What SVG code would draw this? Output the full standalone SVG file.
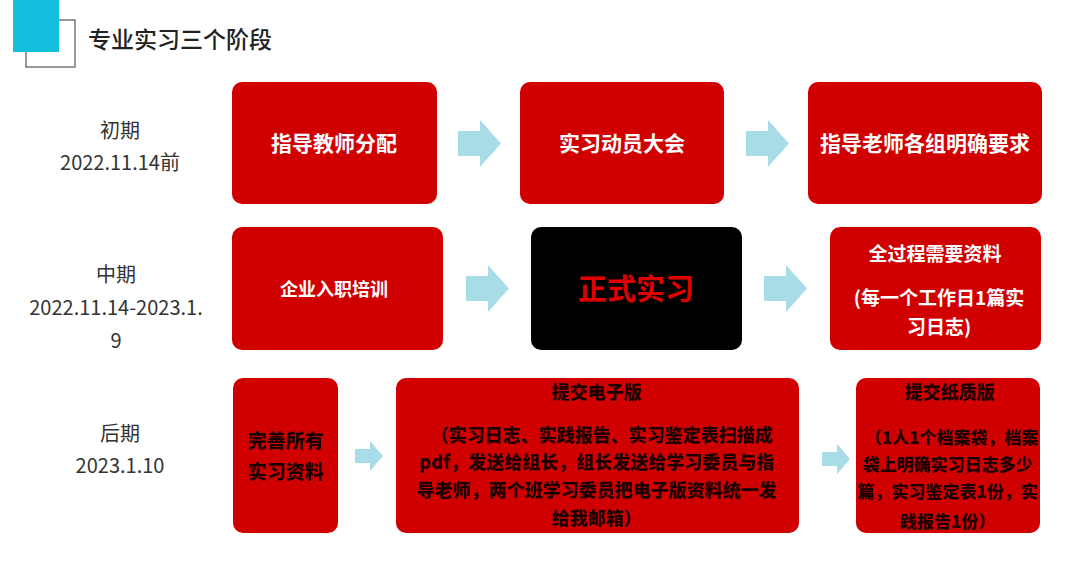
<svg xmlns="http://www.w3.org/2000/svg" width="1080" height="587" viewBox="0 0 1080 587">
<style>
.box{fill:#d10000}
.blk{fill:#000}
.arr{fill:#a8dce6}
.lbl{font-family:"Noto Sans CJK SC","Noto Sans",sans-serif;font-size:20px;fill:#333;text-anchor:middle}
.wt{font-family:"Noto Sans CJK SC",sans-serif;font-size:21px;font-weight:bold;fill:#fff;text-anchor:middle}
.dk{font-family:"Noto Sans CJK SC",sans-serif;font-size:18px;font-weight:900;fill:#1e0000;text-anchor:middle}
</style>
<defs>
<path id="ar" d="M0,11 H22 V0 L43,23.5 L22,47 V36 H0 Z"/>
<path id="ars" d="M0,8 H15 V0 L28,15 L15,30 V22 H0 Z"/>
<filter id="soft" x="-5%" y="-20%" width="110%" height="140%"><feGaussianBlur stdDeviation="0.6"/></filter>
</defs>
<rect width="1080" height="587" fill="#fff"/>
<g id="header">
<rect x="26" y="20" width="49" height="47" fill="none" stroke="#777" stroke-width="1.5"/>
<rect x="13" y="0" width="46" height="52" fill="#13bfdc"/>
<text x="88" y="48" font-family="Noto Sans CJK SC,sans-serif" font-size="23" font-weight="500" fill="#222">专业实习三个阶段</text>
</g>
<g id="labels">
<text class="lbl" x="120" y="138">初期</text>
<text class="lbl" x="120" y="170">2022.11.14前</text>
<text class="lbl" x="116" y="282">中期</text>
<text class="lbl" x="116" y="315">2022.11.14-2023.1.</text>
<text class="lbl" x="116" y="348">9</text>
<text class="lbl" x="120" y="441">后期</text>
<text class="lbl" x="120" y="473">2023.1.10</text>
</g>
<g id="connectors">
<use href="#ar" class="arr" x="458" y="120"/>
<use href="#ar" class="arr" x="746" y="120"/>
<use href="#ar" class="arr" x="466" y="265"/>
<use href="#ar" class="arr" x="764" y="265"/>
<use href="#ars" class="arr" x="355" y="441"/>
<use href="#ars" class="arr" x="822" y="444"/>
</g>
<g id="n1">
<rect class="box" x="232" y="82" width="205" height="122" rx="10"/>
<text class="wt" x="334" y="151">指导教师分配</text>
</g>
<g id="n2">
<rect class="box" x="520" y="82" width="204" height="122" rx="10"/>
<text class="wt" x="622" y="151">实习动员大会</text>
</g>
<g id="n3">
<rect class="box" x="808" y="82" width="234" height="122" rx="10"/>
<text class="wt" x="925" y="151">指导老师各组明确要求</text>
</g>
<g id="n4">
<rect class="box" x="232" y="227" width="211" height="123" rx="10"/>
<text class="wt" x="334" y="296" style="font-size:18px">企业入职培训</text>
</g>
<g id="n5">
<rect class="blk" x="531" y="227" width="211" height="123" rx="10"/>
<text x="636" y="300" font-family="Noto Sans CJK SC,sans-serif" font-size="29" font-weight="bold" fill="#e00000" text-anchor="middle">正式实习</text>
</g>
<g id="n6">
<rect class="box" x="830" y="227" width="211" height="123" rx="10"/>
<text class="wt" x="935" y="261" style="font-size:19px">全过程需要资料</text>
<text class="wt" x="939" y="305" style="font-size:19px">(每一个工作日1篇实</text>
<text class="wt" x="939" y="334" style="font-size:19px">习日志)</text>
</g>
<g id="n7">
<rect class="box" x="233" y="378" width="105" height="155" rx="10"/>
<g filter="url(#soft)">
<text class="dk" x="286" y="448" style="font-size:19px">完善所有</text>
<text class="dk" x="286" y="479" style="font-size:19px">实习资料</text>
</g>
</g>
<g id="n8">
<rect class="box" x="396" y="378" width="403" height="155" rx="10"/>
<g filter="url(#soft)">
<text class="dk" x="597" y="399">提交电子版</text>
<text class="dk" x="602" y="442">（实习日志、实践报告、实习鉴定表扫描成</text>
<text class="dk" x="597" y="469">pdf，发送给组长，组长发送给学习委员与指</text>
<text class="dk" x="597" y="497">导老师，两个班学习委员把电子版资料统一发</text>
<text class="dk" x="597" y="525">给我邮箱）</text>
</g>
</g>
<g id="n9">
<rect class="box" x="856" y="378" width="184" height="155" rx="10"/>
<g filter="url(#soft)">
<text class="dk" x="950" y="399">提交纸质版</text>
<text class="dk" x="952" y="444" style="font-size:17px">（1人1个档案袋，档案</text>
<text class="dk" x="948" y="471" style="font-size:17px">袋上明确实习日志多少</text>
<text class="dk" x="948" y="498" style="font-size:17px">篇，实习鉴定表1份，实</text>
<text class="dk" x="948" y="528" style="font-size:17px">践报告1份）</text>
</g>
</g>
</svg>
